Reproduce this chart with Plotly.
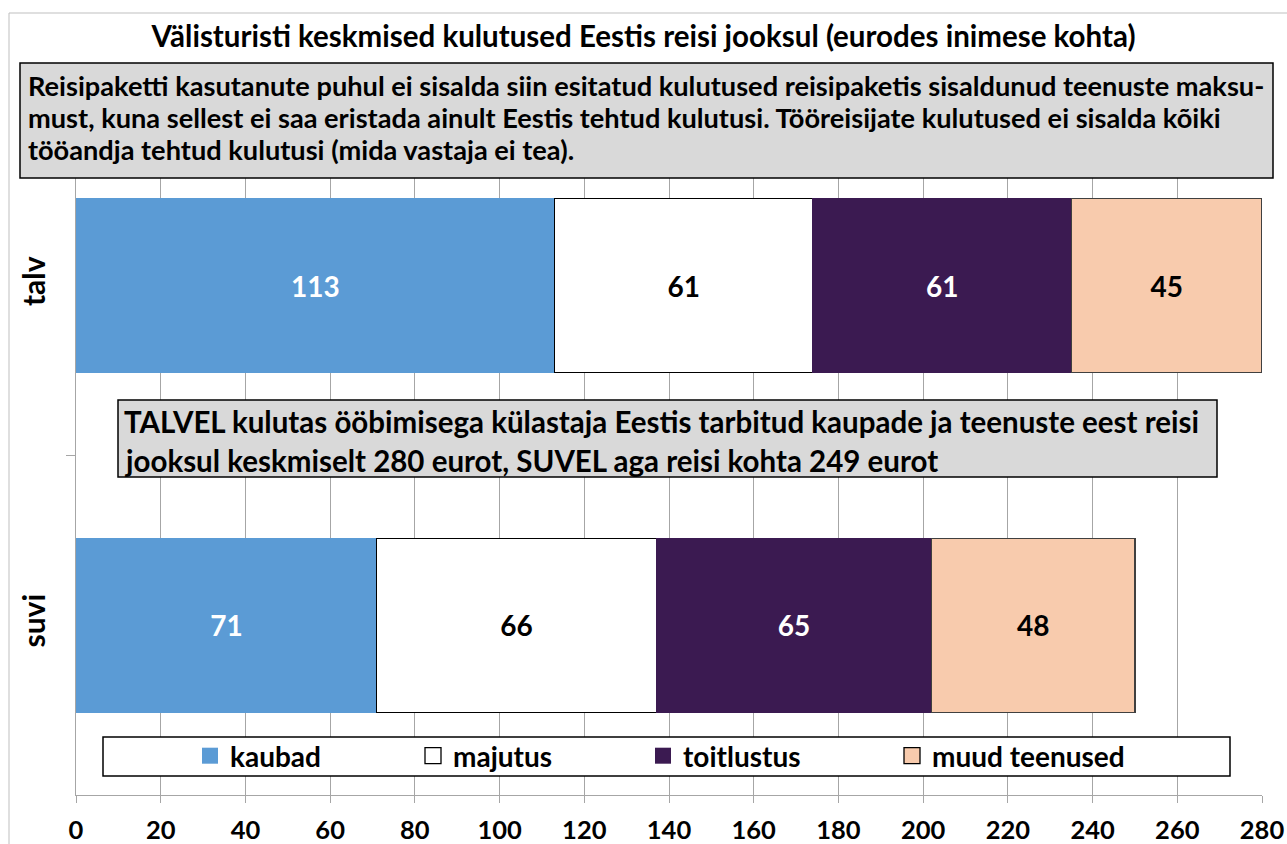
import plotly.graph_objects as go

categories = ["talv", "suvi"]
series_names = ["kaubad", "majutus", "toitlustus", "muud teenused"]
kaubad = [113, 71]
majutus = [61, 66]
toitlustus = [61, 65]
muud = [45, 48]
x_ticks = list(range(0, 281, 20))

title_text = "Välisturisti keskmised kulutused Eestis reisi jooksul (eurodes inimese kohta)"
note1_lines = [
    "Reisipaketti kasutanute puhul ei sisalda siin esitatud kulutused reisipaketis sisaldunud teenuste maksu-",
    "must, kuna sellest ei saa eristada ainult Eestis tehtud kulutusi. Tööreisijate kulutused ei sisalda kõiki",
    "tööandja tehtud kulutusi (mida vastaja ei tea).",
]
note2_lines = [
    "TALVEL kulutas ööbimisega külastaja Eestis tarbitud kaupade ja teenuste eest reisi",
    "jooksul keskmiselt 280 eurot, SUVEL aga reisi kohta 249 eurot",
]

W, H = 1287, 844
L, R, T, B = 76, 1262, 116, 795
PW, PH = R - L, B - T


def px(x):
    return (x - L) / PW


def py(y):
    return (B - y) / PH


FONT = "Lato, 'Open Sans', sans-serif"
colors = ["#5B9BD5", "#FFFFFF", "#3B1A51", "#F8CBAD"]
text_colors = ["#FFFFFF", "#000000", "#FFFFFF", "#000000"]
line_colors = ["#5B9BD5", "#000000", "#3B1A51", "#404040"]
legend_line_w = [0, 1.3, 0, 1.3]
values = [kaubad, majutus, toitlustus, muud]
legend_ids = ["legend", "legend2", "legend3", "legend4"]
legend_text_x = [230, 453, 683, 932]

fig = go.Figure()
for name, vals, c, tc, lc in zip(series_names, values, colors, text_colors, line_colors):
    fig.add_trace(go.Bar(
        y=categories, x=vals, name=name, orientation="h", showlegend=False,
        marker=dict(color=c, line=dict(color=lc, width=1.2)),
        text=vals, texttemplate="%{x}", textposition="inside",
        insidetextanchor="middle", constraintext="none",
        textfont=dict(color=tc, size=28, family=FONT, weight="bold"),
    ))

# legend entries (square swatches like the original)
for name, c, lc, lw, lid in zip(series_names, colors, line_colors, legend_line_w, legend_ids):
    fig.add_trace(go.Scatter(
        x=[None], y=[None], mode="markers", name=name, legend=lid, showlegend=True,
        marker=dict(symbol="square", size=16, color=c,
                    line=dict(color="#000000" if lw else c, width=lw)),
        hoverinfo="skip",
    ))

shapes = [
    # outer chart border
    dict(type="rect", xref="paper", yref="paper", x0=px(9), x1=px(1292), y0=py(850), y1=py(13),
         line=dict(color="#BFBFBF", width=1), fillcolor="rgba(0,0,0,0)", layer="below"),
    # note 1 box
    dict(type="rect", xref="paper", yref="paper", x0=px(20), x1=px(1273), y0=py(178), y1=py(63),
         line=dict(color="#000000", width=1.5), fillcolor="#D9D9D9", layer="above"),
    # note 2 box
    dict(type="rect", xref="paper", yref="paper", x0=px(118), x1=px(1217), y0=py(477), y1=py(400),
         line=dict(color="#000000", width=1.5), fillcolor="#D9D9D9", layer="above"),
    # legend box
    dict(type="rect", xref="paper", yref="paper", x0=px(103), x1=px(1230), y0=py(776), y1=py(737),
         line=dict(color="#000000", width=1.5), fillcolor="#FFFFFF", layer="above"),
]

annotations = []
for line, yy in zip(note1_lines, [86, 117, 149]):
    annotations.append(dict(text=line, xref="paper", yref="paper", x=px(27), y=py(yy),
                            xanchor="left", yanchor="middle", showarrow=False, borderpad=0,
                            font=dict(size=27.2, family=FONT, color="#000000", weight="bold")))
for line, yy in zip(note2_lines, [422, 460]):
    annotations.append(dict(text=line, xref="paper", yref="paper", x=px(123), y=py(yy),
                            xanchor="left", yanchor="middle", showarrow=False, borderpad=0,
                            font=dict(size=29.5, family=FONT, color="#000000", weight="bold")))

legend_common = dict(orientation="h", yanchor="middle", xanchor="left", bgcolor="rgba(0,0,0,0)",
                     borderwidth=0, y=py(756),
                     font=dict(size=28, family=FONT, color="#000000", weight="bold"))
legend_layout = {}
for lid, tx in zip(legend_ids, legend_text_x):
    legend_layout[lid] = dict(legend_common, x=px(tx - 40))

fig.update_layout(
    width=W, height=H,
    margin=dict(l=L, r=W - R, t=T, b=H - B, autoexpand=False),
    paper_bgcolor="#FFFFFF", plot_bgcolor="#FFFFFF",
    barmode="stack", bargap=0.487,
    title=dict(text=title_text, x=0.5, xref="container", xanchor="center", y=1 - 37 / H, yanchor="middle",
               font=dict(size=29.5, family=FONT, color="#000000", weight="bold")),
    xaxis=dict(range=[0, 280], tickvals=x_ticks, ticktext=[str(v) for v in x_ticks],
               showgrid=True, gridcolor="#A6A6A6", gridwidth=1,
               showline=True, linecolor="#A6A6A6", linewidth=1,
               ticks="outside", ticklen=7, tickcolor="#A6A6A6", ticklabelstandoff=5,
               tickfont=dict(size=25.5, family=FONT, color="#000000", weight="bold"),
               zeroline=False, fixedrange=True, automargin=False),
    yaxis=dict(categoryorder="array", categoryarray=categories, autorange="reversed",
               showgrid=False, showline=True, linecolor="#A6A6A6", linewidth=1,
               ticks="outside", ticklen=9, tickcolor="#A6A6A6", tickson="boundaries",
               tickangle=-90, ticklabelstandoff=18,
               tickfont=dict(size=30, family=FONT, color="#000000", weight="bold"),
               fixedrange=True, automargin=False),
    shapes=shapes,
    annotations=annotations,
    showlegend=True,
    **legend_layout,
)

fig.write_html(
    "out.html",
    config={"displayModeBar": False},
    post_script="document.body.style.margin='0px';document.body.style.overflow='hidden';",
)
